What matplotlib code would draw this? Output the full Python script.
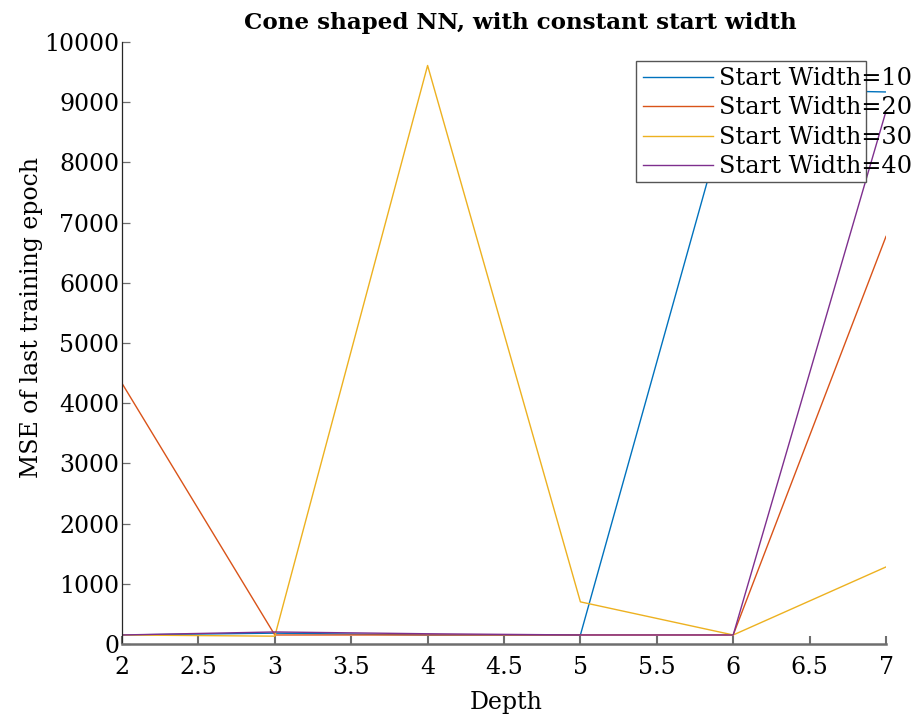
import matplotlib
matplotlib.use("Agg")
import matplotlib.pyplot as plt
from matplotlib.patches import Rectangle
from matplotlib.ticker import FuncFormatter, MultipleLocator

# MSE of the last training epoch per depth, one series per start width
depth = [2, 3, 4, 5, 6, 7]
width_10 = [150, 180, 150, 150, 9220, 9170]
width_20 = [4330, 150, 150, 150, 150, 6770]
width_30 = [150, 130, 9610, 700, 150, 1280]
width_40 = [150, 200, 170, 150, 150, 8850]
labels = ["Start Width=10", "Start Width=20", "Start Width=30", "Start Width=40"]
colors = ["#0072BD", "#D95319", "#EDB120", "#7E2F8E"]

plt.rcParams["font.family"] = ["DejaVu Serif"]
plt.rcParams["font.size"] = 17

W, H = 919, 725
fig = plt.figure(figsize=(W / 100, H / 100), dpi=100)
ax = fig.add_axes([122 / W, 1 - 644 / H, (886 - 122) / W, (644 - 42) / H])

for ys, c, lab in zip([width_10, width_20, width_30, width_40], colors, labels):
    ax.plot(depth, ys, color=c, lw=1.0, label=lab)

ax.set_xlim(2, 7)
ax.set_ylim(0, 10000)
ax.xaxis.set_major_locator(MultipleLocator(0.5))
ax.yaxis.set_major_locator(MultipleLocator(1000))
ax.xaxis.set_major_formatter(FuncFormatter(lambda v, p: "%g" % v))
ax.yaxis.set_major_formatter(FuncFormatter(lambda v, p: "%d" % v))

for s in ["top", "right"]:
    ax.spines[s].set_visible(False)
ax.spines["left"].set_color("#262626")
ax.spines["left"].set_linewidth(0.9)
ax.spines["bottom"].set_color("#6e6e6e")
ax.spines["bottom"].set_linewidth(1.8)
ax.tick_params(axis="x", direction="in", length=6, width=1.5, color="#6e6e6e", pad=9)
ax.tick_params(axis="y", direction="in", length=6, width=0.9, color="#6e6e6e", pad=2)

ax.set_title("Cone shaped NN, with constant start width", fontweight="bold",
             fontsize=16.6, x=0.522, pad=9)
ax.set_xlabel("Depth")
ax.set_ylabel("MSE of last training epoch")
ax.xaxis.set_label_coords(0.503, -0.078)
ax.yaxis.set_label_coords(-0.103, 0.543)

# legend box is a fixed size; the entries spill past its right edge
box = Rectangle((636 / W, 1 - 182 / H), (866 - 636) / W, (182 - 61) / H,
                transform=fig.transFigure, facecolor="white", edgecolor="#555555",
                lw=1.0, zorder=3, clip_on=False)
ax.add_patch(box)
leg = ax.legend(loc="upper left", bbox_to_anchor=(643 / W, 1 - 67 / H),
                bbox_transform=fig.transFigure, frameon=False, borderpad=0,
                handlelength=2.9, handletextpad=0.25, labelspacing=0.27,
                borderaxespad=0, fontsize=17.3)
leg.set_zorder(5)

fig.savefig("out.png", dpi=100)
